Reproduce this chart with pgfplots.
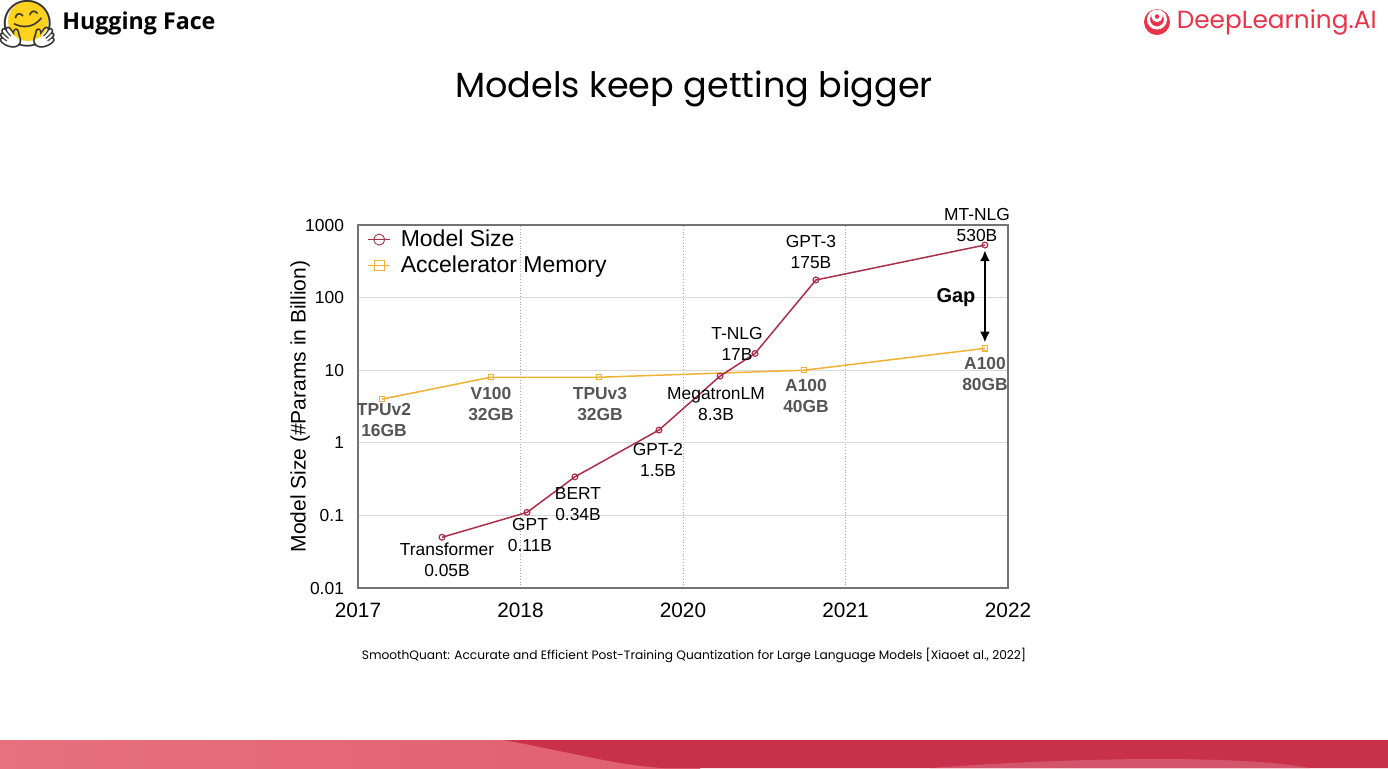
\documentclass[border=0pt]{standalone}
\usepackage{fontspec}
\setmainfont{Liberation Sans}
\newfontfamily\pop{Poppins}
\newfontfamily\hf{Open Sans}
\newfontfamily\emo{Noto Emoji}
\usepackage{pgfplots}
\pgfplotsset{compat=1.18}
\usetikzlibrary{arrows.meta}

\definecolor{msize}{HTML}{A8304A}
\definecolor{amem}{HTML}{F0B135}
\definecolor{dlred}{HTML}{E8344B}
\definecolor{band}{HTML}{C9304A}
\definecolor{bandl}{HTML}{E8707F}
\definecolor{bandm}{HTML}{E05F70}
\definecolor{lbl}{HTML}{555555}
\definecolor{hfyellow}{HTML}{FFD21E}

\begin{document}
\begin{tikzpicture}
\useasboundingbox (0,0) rectangle (694pt,-384pt);
\fill[white] (0,0) rectangle (694pt,-384pt);

% slide header and footer, in pixel units of the reference
\begin{scope}[x=0.5pt,y=-0.5pt]
  \fill[hfyellow] (28,21) circle (20);
  \node[font=\emo\fontsize{23}{23}\selectfont, text=black!80] at (28,24) {🤗};
  \node[anchor=west, inner sep=0pt, font=\hf\bfseries\fontsize{11.6}{13}\selectfont] at (62,23) {Hugging Face};

  \fill[dlred] (1157,22) circle (13);
  \draw[white, line width=1.5] (1157,19.5) circle (8.5);
  \draw[white, line width=1.5] (1157,16.5) circle (4);
  \node[anchor=east, inner sep=0pt, font=\pop\fontsize{12.4}{14}\selectfont, text=dlred] at (1377,22) {DeepLearning.AI};

  \node[font=\pop\fontsize{17.5}{20}\selectfont] at (694,89) {Models keep getting bigger};
  \node[font=\pop\fontsize{6.1}{8}\selectfont] at (694,655) {SmoothQuant: Accurate and Efficient Post-Training Quantization for Large Language Models [Xiaoet al., 2022]};

  \shade[left color=bandl, right color=bandm] (0,740) rectangle (700,768);
  \fill[band] (504,740) .. controls (570,752) and (620,766) .. (664,768) -- (1388,768) -- (1388,740) -- cycle;
  \fill[band!82!white] (930,768) .. controls (1080,757) and (1240,755) .. (1310,768) -- cycle;
\end{scope}

\begin{axis}[
  at={(179pt,-294pt)}, anchor=south west, scale only axis,
  width=325pt, height=181.5pt,
  xmin=0, xmax=4, ymode=log, ymin=0.01, ymax=1000,
  xtick={0,1,2,3,4}, xticklabels={2017,2018,2020,2021,2022},
  ytick={0.01,0.1,1,10,100,1000}, yticklabels={0.01,0.1,1,10,100,1000},
  minor ytick={}, minor tick num=0,
  major tick length=0pt, minor tick length=0pt,
  axis line style={draw=black!55, line width=0.6pt},
  ymajorgrids, xmajorgrids,
  y grid style={black!15, line width=0.6pt},
  x grid style={black!35, densely dotted, line width=0.5pt},
  /pgf/number format/assume math mode=true,
  xticklabel style={font=\fontsize{10.4}{12}\selectfont, yshift=-4pt},
  yticklabel style={font=\fontsize{8.7}{10}\selectfont, xshift=-3.5pt},
  ylabel={Model Size (\#Params in Billion)},
  ylabel style={font=\fontsize{10.5}{12}\selectfont, at={(axis description cs:-0.089,0.5)}, anchor=center},
  legend style={at={(axis description cs:0.005,1.01)}, anchor=north west, draw=none, fill=none,
    font=\fontsize{11.5}{13}\selectfont, row sep=-1pt, nodes={inner xsep=5pt}},
  legend image code/.code={%
    \draw[mark repeat=2, mark phase=2, /tikz/every mark/.append style={scale=1.9, line width=0.45pt}]
      plot coordinates {(0cm,0cm) (0.19cm,0cm) (0.38cm,0cm)};},
  legend cell align=left,
  clip=false,
]
\addplot[color=amem, line width=0.75pt, mark=square, mark size=1.3pt,
  mark options={solid, line width=0.6pt, fill=white}, forget plot]
  coordinates {(0.148,4) (0.818,8) (1.483,8) (2.745,10) (3.858,20)};
\addplot[color=msize, line width=0.75pt, mark=o, mark size=1.45pt,
  mark options={solid, line width=0.6pt, fill=white}]
  coordinates {(0.517,0.05) (1.04,0.11) (1.335,0.34) (1.852,1.5) (2.228,8.3) (2.443,17) (2.818,175) (3.858,530)};
\addlegendentry{Model Size}
\addlegendimage{color=amem, line width=0.75pt, mark=square, mark size=1.3pt, mark options={solid, line width=0.6pt, fill=white}}
\addlegendentry{Accelerator Memory}

\draw[black, line width=1.3pt, {Latex[length=5.5pt,width=5pt]}-{Latex[length=5.5pt,width=5pt]}]
  (axis cs:3.858,450) -- (axis cs:3.858,24);
\node[font=\bfseries\fontsize{10}{12}\selectfont] at (axis cs:3.68,100) {Gap};
\end{axis}

% point labels
\begin{scope}[x=0.5pt,y=-0.5pt, every node/.style={align=center, font=\fontsize{8.7}{10.5}\selectfont}]
  \node at (447,560) {Transformer\\0.05B};
  \node at (530,535) {GPT\\0.11B};
  \node at (578,504) {BERT\\0.34B};
  \node at (658,460) {GPT-2\\1.5B};
  \node at (716,404) {MegatronLM\\8.3B};
  \node at (737,344) {T-NLG\\17B};
  \node at (811,252) {GPT-3\\175B};
  \node at (977,225) {MT-NLG\\530B};
\end{scope}
\begin{scope}[x=0.5pt,y=-0.5pt, every node/.style={align=center, text=lbl, font=\bfseries\fontsize{8.7}{10.5}\selectfont}]
  \node at (384,420) {TPUv2\\16GB};
  \node at (491,404) {V100\\32GB};
  \node at (600,404) {TPUv3\\32GB};
  \node at (806,396) {A100\\40GB};
  \node at (985,374) {A100\\80GB};
\end{scope}
\end{tikzpicture}
\end{document}
